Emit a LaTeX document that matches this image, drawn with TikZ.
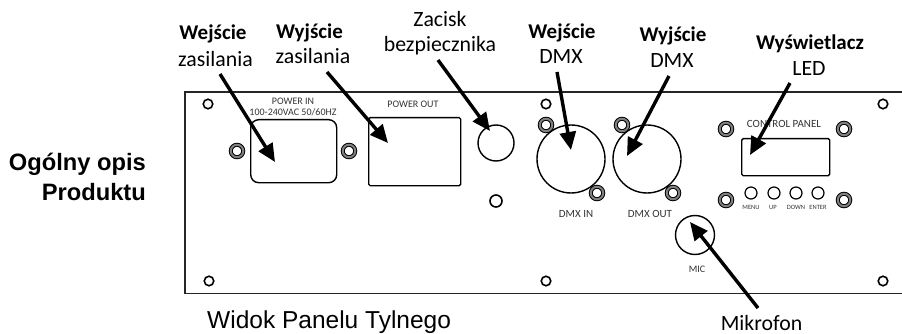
\documentclass[tikz,border=0pt]{standalone}
\usepackage{fontspec}
\setmainfont{Carlito}
\newfontfamily\arialf{Liberation Sans}
\usetikzlibrary{arrows.meta}
\tikzset{
  x=1pt,y=-1pt,
  lab/.style={inner sep=0pt,font=\fontsize{21.8}{24}\selectfont,anchor=base},
  labb/.style={lab,font=\fontsize{21}{24}\selectfont\bfseries},
  hole/.style={circle,draw=black,line width=1.6pt,minimum size=9.5pt,inner sep=0pt},
  screw/.style={circle,draw=black,double=black!50,double distance=2pt,fill=white,line width=1pt,minimum size=12.5pt,inner sep=0pt},
  btn/.style={circle,draw=black,line width=1.2pt,minimum size=12pt,inner sep=0pt},
  port/.style={circle,draw=black,fill=white,line width=1.4pt,inner sep=0pt},
  box/.style={draw=black,line width=1.4pt,inner sep=0pt,anchor=north west},
  tiny/.style={inner sep=0pt,text=black!80,font=\fontsize{10}{11}\selectfont},
  tinier/.style={inner sep=0pt,text=black!80,font=\fontsize{6.5}{7}\selectfont},
  pointer/.style={line width=3.4pt,-{Triangle[length=18pt,width=16pt]}},
}
\begin{document}
\begin{tikzpicture}
\useasboundingbox (0,0) rectangle (902,334);
% panel outline
\coordinate (pa) at (902,92);
\coordinate (pb) at (185,92);
\coordinate (pc) at (185,293.5);
\coordinate (pd) at (902,293.5);
\draw[line width=1.7pt,draw=black!85] (pa) -- (pb) -- (pc) -- (pd);
% holes
\foreach \n/\x/\y in {h1/208/104,h2/546/104,h3/883/104,h4/209/281,h5/546/281,h6/883/281}
  \node[hole] (\n) at (\x,\y) {};
\node[hole,minimum size=12pt] (h7) at (496,201) {};
% ports
\node[box,minimum width=86pt,minimum height=63pt,rounded corners=8pt] (pin) at (250,119) {};
\node[box,minimum width=92pt,minimum height=68pt,rounded corners=1.5pt] (pout) at (368,117) {};
\node[port,minimum size=36pt] (fuse) at (496,143) {};
\node[port,minimum size=68pt] (dmxin) at (571,159) {};
\node[port,minimum size=68pt] (dmxout) at (647,159) {};
\node[port,minimum size=39pt] (mic) at (695,235) {};
\node[box,minimum width=88pt,minimum height=37pt,rounded corners=1.5pt] (led) at (741,138) {};
\foreach \n/\x in {b1/751,b2/774,b3/796,b4/818}
  \node[btn] (\n) at (\x,193) {};
% screws
\foreach \n/\x/\y in {s1/237/151,s2/349/151,s3/546/125,s4/597/193,s5/622/125,s6/673/193,s7/726/129,s8/844/129,s9/726/200,s10/844/200}
  \node[screw] (\n) at (\x,\y) {};
% panel print
\node[tiny] (tp1) at (293,101) {POWER IN};
\node[tiny] (tp2) at (293,112) {100-240VAC 50/60HZ};
\node[tiny] (tp3) at (413,104) {POWER OUT};
\node[tiny,font=\fontsize{11}{12}\selectfont] (tp4) at (576,214) {DMX IN};
\node[tiny,font=\fontsize{11}{12}\selectfont] (tp5) at (650,214) {DMX OUT};
\node[tiny] (tp6) at (697,269) {MIC};
\node[tiny,font=\fontsize{11}{12}\selectfont] (tp7) at (784,124) {CONTROL PANEL};
\node[tinier] (t1) at (751,207) {MENU};
\node[tinier] (t2) at (773,207) {UP};
\node[tinier] (t3) at (796,207) {DOWN};
\node[tinier] (t4) at (818,207) {ENTER};
% labels
\node[labb] (l1a) at (213,40) {Wejście};
\node[lab] (l1b) at (215.5,67) {zasilania};
\node[labb] (l2a) at (309.5,39) {Wyjście};
\node[lab] (l2b) at (313,64) {zasilania};
\node[lab] (l3a) at (440,27) {Zacisk};
\node[lab] (l3b) at (440,52) {bezpiecznika};
\node[labb] (l4a) at (562,39) {Wejście};
\node[lab] (l4b) at (561,64) {DMX};
\node[labb] (l5a) at (673,42) {Wyjście};
\node[lab] (l5b) at (672,68) {DMX};
\node[labb] (l6a) at (810,50) {Wyświetlacz};
\node[lab] (l6b) at (809,76) {LED};
\node[lab] (l7) at (761.5,330) {Mikrofon};
\node[inner sep=0pt,anchor=base east,font=\fontsize{23.7}{26}\selectfont\arialf\bfseries] (o1) at (146,171) {Ogólny opis};
\node[inner sep=0pt,anchor=base east,font=\fontsize{23.7}{26}\selectfont\arialf\bfseries] (o2) at (146,200) {Produktu};
\node[inner sep=0pt,anchor=base west,font=\fontsize{24.5}{26}\selectfont\arialf] (w) at (207,328.5) {Widok Panelu Tylnego};
% pointers
\coordinate (a1) at (220,74); \coordinate (a1t) at (275,162);
\coordinate (a2) at (327,72); \coordinate (a2t) at (388,143);
\coordinate (a3) at (438,60); \coordinate (a3t) at (490,131);
\coordinate (a4) at (557,72); \coordinate (a4t) at (571,150);
\coordinate (a5) at (669,76); \coordinate (a5t) at (627,156);
\coordinate (a6) at (790,83); \coordinate (a6t) at (750,155);
\coordinate (a7) at (758,308); \coordinate (a7t) at (690,222);
\foreach \i in {1,...,7} \draw[pointer] (a\i) -- (a\i t);
\end{tikzpicture}
\end{document}
